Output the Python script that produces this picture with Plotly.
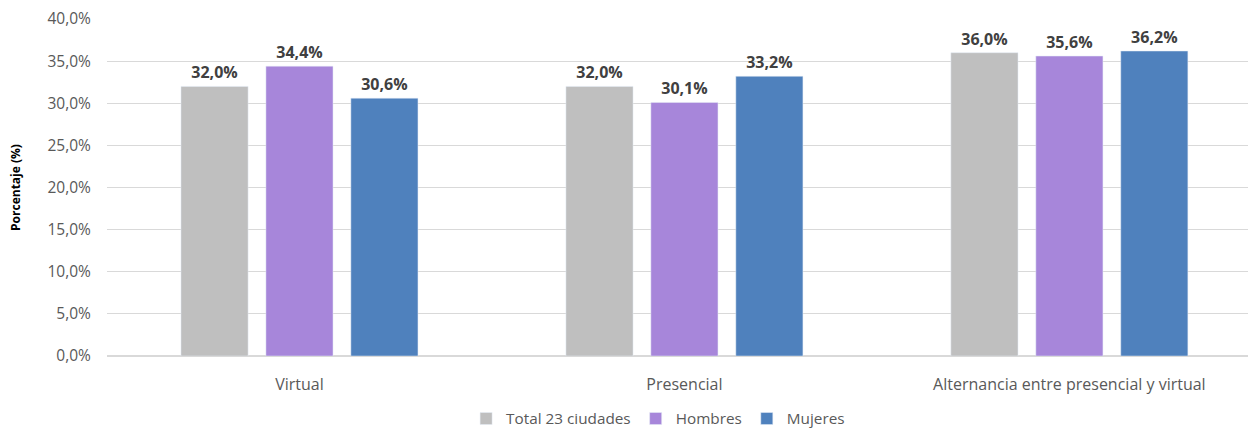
import plotly.graph_objects as go

categories = ["Virtual", "Presencial", "Alternancia entre presencial y virtual"]
series_names = ["Total 23 ciudades", "Hombres", "Mujeres"]
total = [32.0, 32.0, 36.0]
hombres = [34.4, 30.1, 35.6]
mujeres = [30.6, 33.2, 36.2]
colors = ["#BFBFBF", "#A786DA", "#4F81BD"]
y_ticks = [0, 5, 10, 15, 20, 25, 30, 35, 40]
y_tick_labels = ["0,0%", "5,0%", "10,0%", "15,0%", "20,0%", "25,0%", "30,0%", "35,0%", "40,0%"]

FONT = "Open Sans"

fig = go.Figure()
for name, vals, c in zip(series_names, [total, hombres, mujeres], colors):
    fig.add_trace(go.Bar(
        x=categories, y=vals, name=name, marker_color=c,
        texttemplate="<b>%{y:.1f}%</b>", textposition="outside",
        textfont=dict(size=16, color="#404040", family=FONT),
        cliponaxis=False,
    ))

fig.update_layout(
    width=1248, height=428,
    margin=dict(l=107, r=0, t=19, b=72, autoexpand=False),
    paper_bgcolor="white", plot_bgcolor="white",
    separators=",.",
    barmode="group", bargap=0.338, bargroupgap=0.21,
    font=dict(family=FONT, color="#595959", size=15),
    legend=dict(orientation="h", xref="paper", x=0.483, xanchor="center",
                yref="container", y=0.022, yanchor="middle",
                font=dict(size=15.3, color="#595959"), traceorder="normal",
                itemwidth=30),
    showlegend=True,
)
fig.update_yaxes(
    range=[0, 40], tickvals=y_ticks, ticktext=y_tick_labels,
    showgrid=True, gridcolor="#D9D9D9", gridwidth=1,
    zeroline=True, zerolinecolor="#D9D9D9", zerolinewidth=2,
    ticks="outside", ticklen=12, tickcolor="rgba(0,0,0,0)",
    tickfont=dict(size=15.5, color="#595959"),
    title=dict(text="<b>Porcentaje (%)</b>", font=dict(size=12, color="#000000"), standoff=24),
)
fig.update_xaxes(
    range=[-0.5, 2.464],
    tickfont=dict(size=16, color="#595959"), showline=False,
    ticks="outside", ticklen=14, tickcolor="rgba(0,0,0,0)",
)

fig.write_html("out.html", config={"displayModeBar": False},
               post_script="document.body.style.margin='0';")
